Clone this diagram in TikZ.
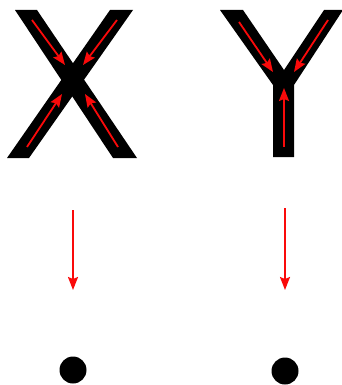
\documentclass[tikz,border=0pt]{standalone}
\usepackage{tikz}
\usetikzlibrary{arrows.meta}
\definecolor{myred}{RGB}{250,10,10}
\definecolor{mydark}{RGB}{0,0,0}
\tikzset{
  stroke/.style={fill=mydark, draw=none},
  redarrow/.style={-{Stealth[length=13pt, width=10pt, inset=2pt]}, line width=1.8pt, color=myred},
  dot/.style={circle, fill=mydark, minimum size=27pt, inner sep=0pt}
}

\begin{document}
\begin{tikzpicture}[x=1pt, y=-1pt]
  \useasboundingbox (0,0) rectangle (342,385);

  % Letter X as two crossing bars
  \fill[stroke] (15,10) -- (37,10) -- (137,158) -- (113,158) -- cycle;
  \fill[stroke] (110,10) -- (133,10) -- (29,158) -- (7,158) -- cycle;

  % Letter Y as one outline
  \fill[stroke] (220,10) -- (243,10) -- (284,70) -- (324,10) -- (343,10)
    -- (294,85) -- (294,157) -- (273,157) -- (273,85) -- cycle;

  % Arrow ends on X
  \coordinate (xtl) at (32,20);  \coordinate (xtlend) at (65,65);
  \coordinate (xtr) at (117,20); \coordinate (xtrend) at (83,65);
  \coordinate (xbl) at (27,147); \coordinate (xblend) at (62,94);
  \coordinate (xbr) at (118,147);\coordinate (xbrend) at (85,94);

  % Arrow ends on Y
  \coordinate (ytl) at (239,22); \coordinate (ytlend) at (273,72);
  \coordinate (ytr) at (328,20); \coordinate (ytrend) at (294,72);
  \coordinate (ybot) at (284,147); \coordinate (ybotend) at (284,88);

  % Arrows towards the crossing points
  \draw[redarrow] (xtl) -- (xtlend);
  \draw[redarrow] (xtr) -- (xtrend);
  \draw[redarrow] (xbl) -- (xblend);
  \draw[redarrow] (xbr) -- (xbrend);
  \draw[redarrow] (ytl) -- (ytlend);
  \draw[redarrow] (ytr) -- (ytrend);
  \draw[redarrow] (ybot) -- (ybotend);

  % Contracted points
  \node[dot] (xdot) at (73,370) {};
  \node[dot] (ydot) at (285,371) {};
  \coordinate (xdown) at (73,210);
  \coordinate (ydown) at (285,208);

  \draw[redarrow] (xdown) -- ++(0,80);
  \draw[redarrow] (ydown) -- ++(0,82);
\end{tikzpicture}
\end{document}
